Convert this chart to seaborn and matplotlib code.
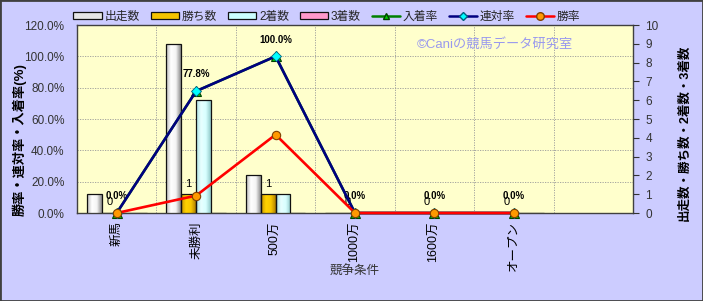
import numpy as np
import pandas as pd
import matplotlib
matplotlib.use('Agg')
import matplotlib.pyplot as plt
import seaborn as sns
from matplotlib.colors import LinearSegmentedColormap
from matplotlib.lines import Line2D
from matplotlib.patches import Rectangle

# ---------------- data ----------------
categories = ['新馬', '未勝利', '500万', '1000万', '1600万', 'オープン']
starts = [1, 9, 2, 0, 0, 0]
wins = [0, 1, 1, 0, 0, 0]
seconds = [0, 6, 1, 0, 0, 0]
thirds = [0, 0, 0, 0, 0, 0]
place_rate = [0.0, 77.8, 100.0, 0.0, 0.0, 0.0]
rentai_rate = [0.0, 77.8, 100.0, 0.0, 0.0, 0.0]
win_rate = [0.0, 11.1, 50.0, 0.0, 0.0, 0.0]
count_names = ['出走数', '勝ち数', '2着数', '3着数']
rate_names = ['入着率', '連対率', '勝率']
left_ticks = [0, 20, 40, 60, 80, 100, 120]
right_ticks = list(range(0, 11))
left_label = '勝率・連対率・入着率(%)'
right_label = '出走数・勝ち数・2着数・3着数'
x_label = '競争条件'
watermark = '©Caniの競馬データ研究室'

# ---------------- style ----------------
sns.set_theme(style='white')
plt.rcParams['font.family'] = ['Liberation Sans', 'Noto Sans CJK JP', 'DejaVu Sans']
plt.rcParams['axes.unicode_minus'] = False

FIG_BG = '#ccccff'
PLOT_BG = '#ffffcc'
bar_colors = {'出走数': '#e6e6e6', '勝ち数': '#f5c400', '2着数': '#ccffff', '3着数': '#ff99cc'}
bar_grads = {
    '出走数': ['#b8b8b8', '#ffffff', '#f4f4f4', '#8c8c8c'],
    '勝ち数': ['#c89400', '#ffd200', '#f8c800', '#b08000'],
    '2着数': ['#a8e0e0', '#e8ffff', '#d8ffff', '#90c8c8'],
    '3着数': ['#d07090', '#ffc0dd', '#ffa0cc', '#c06080'],
}

W, H = 703, 301
fig = plt.figure(figsize=(W / 100, H / 100), dpi=100, facecolor=FIG_BG)
ax = fig.add_axes([77 / W, 88 / H, 556 / W, 188 / H])
ax.set_facecolor(PLOT_BG)

# ---------------- bars (right axis) ----------------
ax2 = ax.twinx()
df_counts = pd.DataFrame({
    'cond': np.repeat(categories, len(count_names)),
    'series': count_names * len(categories),
    'count': np.array([starts, wins, seconds, thirds]).T.ravel(),
})
sns.barplot(data=df_counts, x='cond', y='count', hue='series', order=categories,
            hue_order=count_names, palette=bar_colors, width=0.75, saturation=1,
            edgecolor='#111111', linewidth=0.9, legend=False, ax=ax2, errorbar=None)

# cylindrical gradient fills
for cont, name in zip(ax2.containers, count_names):
    cmap = LinearSegmentedColormap.from_list(name, bar_grads[name])
    grad = np.linspace(0, 1, 64).reshape(1, -1)
    for p in cont.patches:
        h = p.get_height()
        if h <= 0:
            continue
        x0 = p.get_x()
        w = p.get_width()
        im = ax2.imshow(grad, cmap=cmap, aspect='auto', extent=(x0, x0 + w, 0, h),
                        zorder=p.get_zorder() - 0.1, interpolation='bilinear')
        im.set_clip_path(p)
        p.set_facecolor('none')

# win-count labels
ax2.bar_label(ax2.containers[1], labels=[str(v) for v in wins], padding=4,
              fontsize=8, color='black')

ax2.set_ylim(0, 10)
ax2.set_yticks(right_ticks)
ax2.set_yticklabels([str(v) for v in right_ticks])
ax2.tick_params(axis='y', direction='out', length=4, width=0.8, color='#333333',
                pad=5, labelsize=8.5, labelcolor='#333333', right=True)
ax2.set_ylabel('')
ax2.set_xlabel('')

# ---------------- rate lines (left axis scale) ----------------
ax3 = ax.twinx()
xpos = np.arange(len(categories))
sns.lineplot(x=xpos, y=place_rate, ax=ax3, color='#008000', linewidth=1.8,
             marker='^', markersize=6.5, markerfacecolor='#00cc00',
             markeredgecolor='#004000', markeredgewidth=0.8, clip_on=False, zorder=3)
sns.lineplot(x=xpos, y=rentai_rate, ax=ax3, color='#000080', linewidth=1.9,
             marker='D', markersize=5, markerfacecolor='#00ffff',
             markeredgecolor='#006080', markeredgewidth=0.6, clip_on=False, zorder=4)
sns.lineplot(x=xpos, y=win_rate, ax=ax3, color='#ff0000', linewidth=1.9,
             marker='o', markersize=6, markerfacecolor='#ff9900',
             markeredgecolor='#804000', markeredgewidth=0.8, clip_on=False, zorder=5)
for i, v in enumerate(rentai_rate):
    ax3.annotate(f'{v:.1f}%', (xpos[i], v), xytext=(0, 12), textcoords='offset points',
                 ha='center', va='center', fontsize=7, fontweight='bold', color='black',
                 annotation_clip=False)
ax3.set_ylim(0, 120)
ax3.set_yticks([])
ax3.tick_params(axis='y', length=0)
for s in ax3.spines.values():
    s.set_visible(False)
for s in ax2.spines.values():
    s.set_visible(False)

# ---------------- left axis / grid ----------------
ax.set_ylim(0, 120)
ax.set_yticks(left_ticks)
ax.set_yticklabels([f'{v:.1f}%' for v in left_ticks])
ax.tick_params(axis='y', length=0, pad=9, labelsize=8.5, labelcolor='#333333', left=True)
ax.set_xlim(-0.5, 6.5)
ax.set_xticks(xpos)
ax.set_xticklabels(categories, rotation=90, fontsize=9, color='black')
ax.set_xticks(np.arange(0.5, 6.0, 1.0), minor=True)
ax.tick_params(axis='x', which='both', length=0, pad=6)
ax.grid(True, axis='y', which='major', color='#999999', linestyle=(0, (1.5, 1.5)), linewidth=0.6)
ax.grid(True, axis='x', which='minor', color='#999999', linestyle=(0, (1.5, 1.5)), linewidth=0.6)
ax.set_axisbelow(True)
for s in ax.spines.values():
    s.set_visible(True)
    s.set_color('#404040')
    s.set_linewidth(1.0)

# ---------------- texts ----------------
fig.text(19 / W, 1 - 140 / H, left_label, rotation=90, ha='center', va='center',
         fontsize=9.5, fontweight='bold', color='black')
fig.text(685 / W, 1 - 133 / H, right_label, rotation=90, ha='center', va='center',
         fontsize=9, fontweight='bold', color='black')
fig.text(355 / W, 1 - 272 / H, x_label, ha='center', va='center', fontsize=9,
         color='#333333')
ax.text((495 - 77) / 556, 1 - (44 - 25) / 188, watermark, transform=ax.transAxes,
        ha='center', va='center', fontsize=9.5, color='#9999ee', zorder=10)

# ---------------- legend ----------------
handles = [Rectangle((0, 0), 1, 1, facecolor=bar_colors[n], edgecolor='#111111',
                     linewidth=0.9) for n in count_names]
handles += [
    Line2D([], [], color='#008000', linewidth=1.8, marker='^', markersize=5,
           markerfacecolor='#00cc00', markeredgecolor='#004000'),
    Line2D([], [], color='#000080', linewidth=1.8, marker='D', markersize=4,
           markerfacecolor='#00ffff', markeredgecolor='#006080'),
    Line2D([], [], color='#ff0000', linewidth=1.8, marker='o', markersize=5.5,
           markerfacecolor='#ff9900', markeredgecolor='#804000'),
]
fig.legend(handles, count_names + rate_names, loc='center', ncol=7,
           bbox_to_anchor=(327 / W, 1 - 17 / H), frameon=False, fontsize=8.5,
           handlelength=2.4, handleheight=0.55, handletextpad=0.25,
           columnspacing=0.9, borderaxespad=0, borderpad=0)

# figure frame
fig.patches.append(Rectangle((0, 0), 1, 1, transform=fig.transFigure, fill=False,
                             edgecolor='#404040', linewidth=2.0, zorder=100))

fig.savefig('out.png', dpi=100, facecolor=FIG_BG)
